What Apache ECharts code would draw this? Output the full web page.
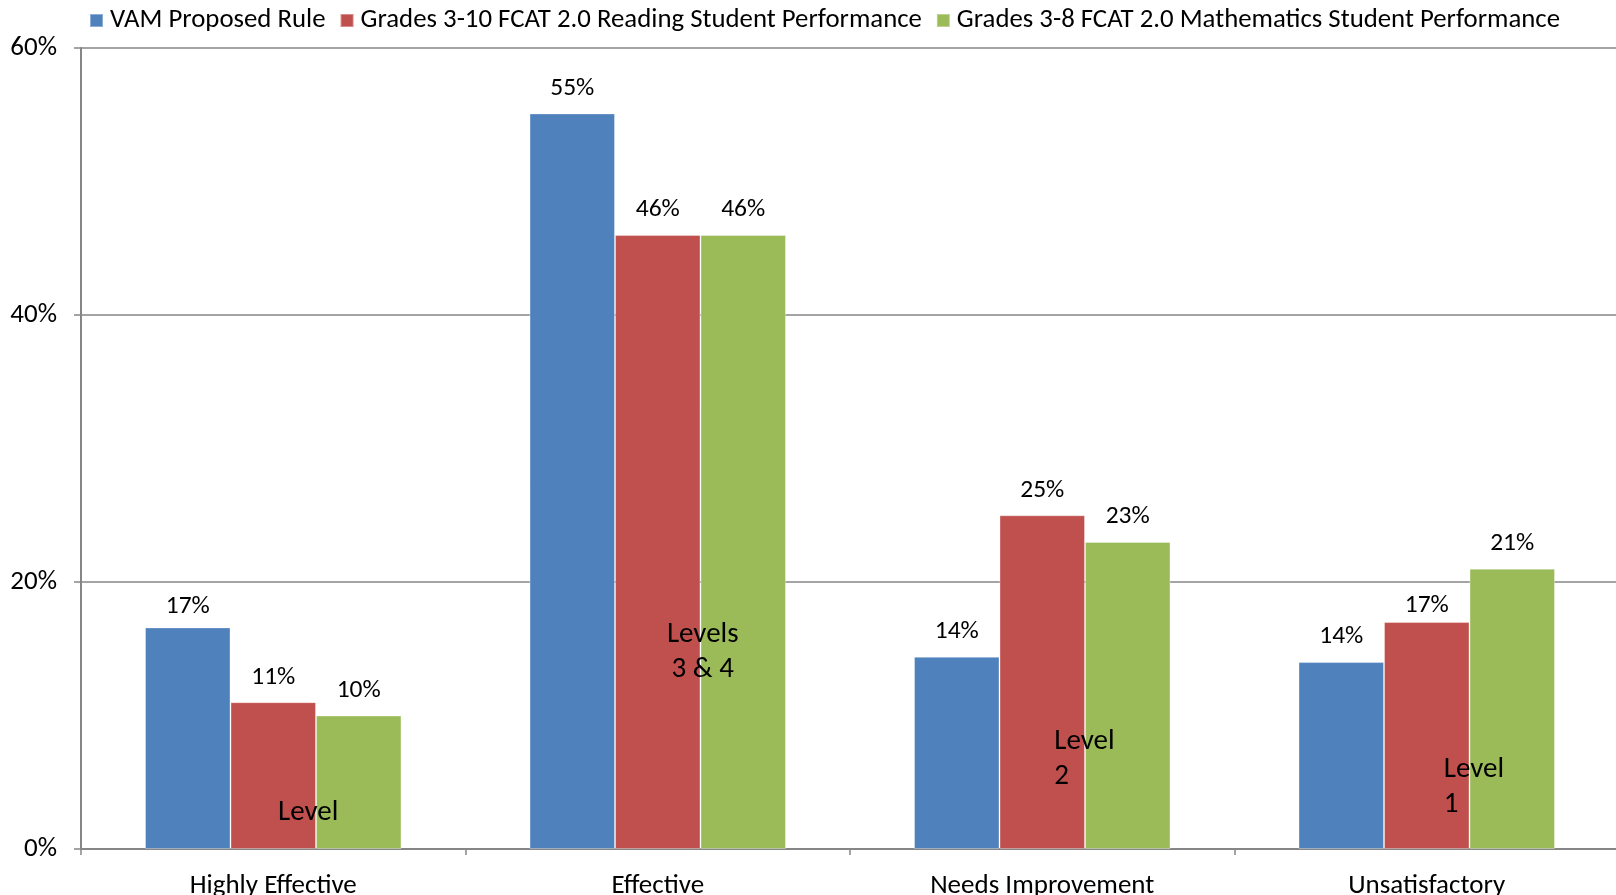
<!DOCTYPE html>
<html>
<head>
<meta charset="utf-8">
<script src="https://cdn.jsdelivr.net/npm/echarts@6/dist/echarts.min.js"></script>
<style>
html,body{margin:0;padding:0;background:#fff;overflow:hidden;}
#chart{width:1616px;height:895px;}
</style>
</head>
<body>
<div id="chart"></div>
<script>
const categories = ['Highly Effective', 'Effective', 'Needs Improvement', 'Unsatisfactory'];
const seriesNames = ['VAM Proposed Rule', 'Grades 3-10 FCAT 2.0 Reading Student Performance', 'Grades 3-8 FCAT 2.0 Mathematics Student Performance'];
const vamValues = [16.6, 55.1, 14.4, 14.0];
const readingValues = [11.0, 46.0, 25.0, 17.0];
const mathValues = [10.0, 46.0, 23.0, 21.0];
const yTicks = [0, 20, 40, 60];
const annotationTexts = ['Level', 'Levels\n3 & 4', 'Level\n2', 'Level\n1'];
const annotationValues = [2.75, 14.75, 6.7, 4.65];

const FONT = 'Carlito, Lato, sans-serif';
const colors = ['#4F81BD', '#C0504D', '#9BBB59'];
const annotationStyle = [
  {dx: 35, align: 'center'},
  {dx: 45, align: 'center'},
  {dx: 12, align: 'left'},
  {dx: 17, align: 'left'}
];
// per-label distance tweaks: [seriesIdx][categoryIdx]
const labelDistance = [
  [8, 12, 12, 12],
  [12, 12, 12, 3],
  [12, 12, 12, 12]
];

const chart = echarts.init(document.getElementById('chart'), null, {renderer: 'canvas'});

function makeSeries(name, values, idx) {
  const s = {
    name: name,
    type: 'bar',
    data: values.map((v, i) => ({value: v, label: {distance: labelDistance[idx][i]}})),
    barGap: '0%',
    barCategoryGap: '33.3%',
    itemStyle: {color: colors[idx], borderColor: 'rgba(255,255,255,0.35)', borderWidth: 1},
    label: {
      show: true,
      position: 'top',
      distance: 12,
      color: '#000',
      fontFamily: FONT,
      fontSize: 25.5,
      formatter: p => Math.round(p.value) + '%'
    },
    emphasis: {disabled: true}
  };
  if (idx === 1) {
    s.markPoint = {
      symbol: 'circle',
      symbolSize: 1,
      itemStyle: {color: 'rgba(0,0,0,0)'},
      z: 10,
      data: annotationTexts.map((t, i) => ({
        coord: [i, annotationValues[i]],
        value: t,
        label: {
          show: true,
          position: 'inside',
          formatter: t,
          offset: [annotationStyle[i].dx, 0],
          align: annotationStyle[i].align,
          color: '#000',
          fontFamily: FONT,
          fontSize: 29,
          lineHeight: 35
        }
      }))
    };
  }
  return s;
}

chart.setOption({
  animation: false,
  backgroundColor: '#fff',
  legend: {
    left: 84,
    top: 2,
    itemWidth: 13,
    itemHeight: 13,
    itemGap: 14,
    icon: 'rect',
    textStyle: {fontFamily: FONT, fontSize: 26.8, color: '#000', padding: [0, 0, 0, 2]},
    data: seriesNames
  },
  grid: {left: 81, top: 48, bottom: 46, right: -3, containLabel: false, outerBoundsMode: 'none'},
  xAxis: {
    type: 'category',
    data: categories,
    axisLine: {lineStyle: {color: '#868686', width: 2}},
    axisTick: {show: true, length: 6, lineStyle: {color: '#868686', width: 1.5}},
    axisLabel: {fontFamily: FONT, fontSize: 27, color: '#000', margin: 24}
  },
  yAxis: {
    type: 'value',
    min: yTicks[0],
    max: yTicks[yTicks.length - 1],
    interval: yTicks[1] - yTicks[0],
    axisLine: {show: true, lineStyle: {color: '#868686', width: 2}},
    axisTick: {show: true, length: 7, lineStyle: {color: '#868686', width: 1.5}},
    splitLine: {lineStyle: {color: '#868686', width: 1.5}},
    axisLabel: {fontFamily: FONT, fontSize: 27, color: '#000', margin: 24, formatter: '{value}%'}
  },
  series: [
    makeSeries(seriesNames[0], vamValues, 0),
    makeSeries(seriesNames[1], readingValues, 1),
    makeSeries(seriesNames[2], mathValues, 2)
  ]
});
</script>
</body>
</html>
